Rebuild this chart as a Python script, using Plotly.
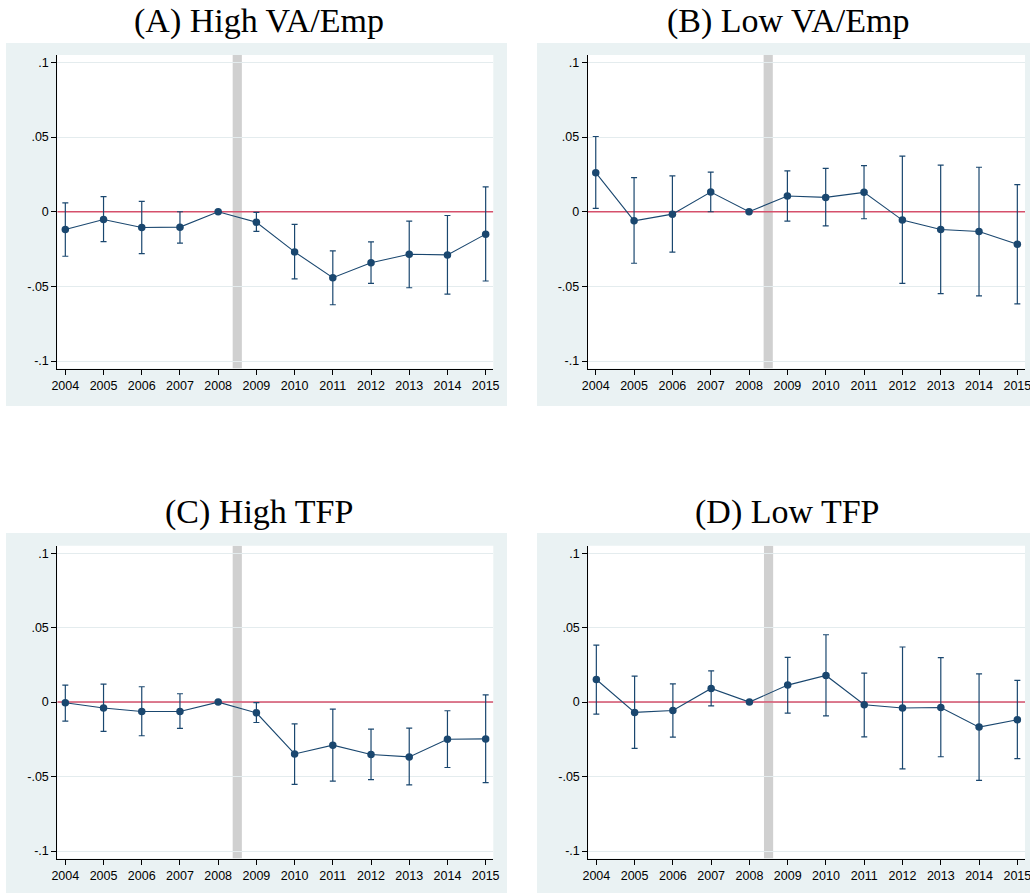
import plotly.graph_objects as go

years = list(range(2004, 2016))
tick_vals = [-0.1, -0.05, 0, 0.05, 0.1]
tick_text = ["-.1", "-.05", "0", ".05", ".1"]

titles = ["(A) High VA/Emp", "(B) Low VA/Emp", "(C) High TFP", "(D) Low TFP"]

a_coef = [-0.0119, -0.0052, -0.0105, -0.0103, 0.0, -0.0070, -0.0269, -0.0442, -0.0341, -0.0285, -0.0289, -0.0150]
a_hi   = [0.0060, 0.0101, 0.0070, 0.0000, 0.0, -0.0004, -0.0085, -0.0262, -0.0202, -0.0063, -0.0025, 0.0166]
a_lo   = [-0.0298, -0.0200, -0.0280, -0.0210, 0.0, -0.0132, -0.0450, -0.0623, -0.0480, -0.0509, -0.0552, -0.0464]

b_coef = [0.0262, -0.0061, -0.0016, 0.0132, 0.0, 0.0105, 0.0096, 0.0130, -0.0056, -0.0119, -0.0132, -0.0217]
b_hi   = [0.0504, 0.0229, 0.0240, 0.0265, 0.0, 0.0274, 0.0291, 0.0309, 0.0372, 0.0312, 0.0298, 0.0182]
b_lo   = [0.0022, -0.0345, -0.0271, 0.0000, 0.0, -0.0063, -0.0094, -0.0047, -0.0480, -0.0549, -0.0563, -0.0617]

c_coef = [-0.0004, -0.0040, -0.0063, -0.0063, 0.0, -0.0072, -0.0348, -0.0289, -0.0352, -0.0368, -0.0249, -0.0247]
c_hi   = [0.0114, 0.0121, 0.0103, 0.0056, 0.0, -0.0004, -0.0146, -0.0047, -0.0182, -0.0175, -0.0058, 0.0049]
c_lo   = [-0.0128, -0.0197, -0.0226, -0.0177, 0.0, -0.0137, -0.0552, -0.0531, -0.0520, -0.0556, -0.0439, -0.0540]

d_coef = [0.0152, -0.0069, -0.0056, 0.0092, 0.0, 0.0114, 0.0179, -0.0018, -0.0040, -0.0036, -0.0168, -0.0119]
d_hi   = [0.0383, 0.0175, 0.0123, 0.0210, 0.0, 0.0300, 0.0452, 0.0195, 0.0370, 0.0298, 0.0190, 0.0146]
d_lo   = [-0.0081, -0.0311, -0.0235, -0.0025, 0.0, -0.0074, -0.0092, -0.0233, -0.0448, -0.0367, -0.0526, -0.0380]

panels = [(a_coef, a_hi, a_lo), (b_coef, b_hi, b_lo), (c_coef, c_hi, c_lo), (d_coef, d_hi, d_lo)]

W, H = 1030, 894
NAVY = "#1a476f"
RED = "#d5506b"
BG = "#eaf2f3"
GRID = "#e4ecee"
X_RANGE = [2003.79, 2015.2]
Y_RANGE = [-0.105, 0.105]

# pixel layout (plot areas and panel backgrounds)
plot_px = [(57.3, 493.3, 55, 368.5), (587.7, 1025, 55, 368.5),
           (57.3, 493.3, 545.7, 858.5), (588.3, 1025, 545.7, 858.5)]
bg_px = [(6, 507, 43, 406), (537, 1030, 43, 406), (6, 507, 533, 893), (537, 1030, 533, 893)]
title_px = [(258.5, 21), (787.5, 21), (258.5, 512), (787.5, 512)]

fig = go.Figure()
shapes = []
annotations = []
for i, (coef, hi, lo) in enumerate(panels):
    n = "" if i == 0 else str(i + 1)
    xa, ya = "x" + n, "y" + n
    err_p = [h - c for h, c in zip(hi, coef)]
    err_m = [c - l for c, l in zip(coef, lo)]
    # zero reference line
    fig.add_trace(go.Scatter(
        x=X_RANGE, y=[0, 0], xaxis=xa, yaxis=ya, mode="lines",
        line=dict(color=RED, width=1.5), showlegend=False, hoverinfo="skip"))
    fig.add_trace(go.Scatter(
        x=years, y=coef, xaxis=xa, yaxis=ya, mode="lines+markers",
        line=dict(color=NAVY, width=1.1),
        marker=dict(color=NAVY, size=7.5),
        error_y=dict(type="data", array=err_p, arrayminus=err_m, color=NAVY,
                     thickness=1.2, width=3),
        showlegend=False, hoverinfo="x+y"))
    x0, x1, y0, y1 = plot_px[i]
    fig.layout["xaxis" + n] = dict(
        domain=[x0 / W, x1 / W], range=X_RANGE, anchor=ya, automargin=False,
        tickmode="array", tickvals=years, ticktext=[str(y) for y in years],
        ticks="outside", ticklen=5, tickcolor="#000", showgrid=False,
        showline=True, linecolor="#000", linewidth=1, zeroline=False,
        ticklabeloverflow="allow",
        tickfont=dict(family="Liberation Sans", size=12.5, color="#000"))
    fig.layout["yaxis" + n] = dict(
        domain=[1 - y1 / H, 1 - y0 / H], range=Y_RANGE, anchor=xa, automargin=False,
        tickmode="array", tickvals=tick_vals, ticktext=tick_text,
        ticks="outside", ticklen=5, tickcolor="#000", showgrid=True,
        gridcolor=GRID, gridwidth=1, showline=True, linecolor="#000",
        linewidth=1, zeroline=False, ticklabeloverflow="allow",
        tickfont=dict(family="Liberation Sans", size=12.5, color="#000"))
    bx0, bx1, by0, by1 = bg_px[i]
    shapes.append(dict(type="rect", xref="paper", yref="paper",
                       x0=bx0 / W, x1=bx1 / W, y0=1 - by1 / H, y1=1 - by0 / H,
                       fillcolor=BG, line=dict(width=0), layer="below"))
    shapes.append(dict(type="rect", xref="paper", yref="paper",
                       x0=x0 / W, x1=x1 / W, y0=1 - y1 / H, y1=1 - y0 / H,
                       fillcolor="white", line=dict(width=0), layer="below"))
    shapes.append(dict(type="rect", xref=xa, yref=ya,
                       x0=2008.38, x1=2008.62, y0=Y_RANGE[0], y1=Y_RANGE[1],
                       fillcolor="#d0d0d0", line=dict(width=0), layer="below"))
    tx, ty = title_px[i]
    annotations.append(dict(text=titles[i], xref="paper", yref="paper",
                            x=tx / W, y=1 - ty / H, xanchor="center", yanchor="middle",
                            showarrow=False,
                            font=dict(family="Liberation Serif", size=34, color="#000")))

fig.update_layout(width=W, height=H, margin=dict(l=0, r=0, t=0, b=0, autoexpand=False),
                  paper_bgcolor="white", plot_bgcolor="white",
                  shapes=shapes, annotations=annotations)
fig.write_html("out.html", config={"displayModeBar": False},
               post_script="document.body.style.margin='0';document.body.style.padding='0';")
